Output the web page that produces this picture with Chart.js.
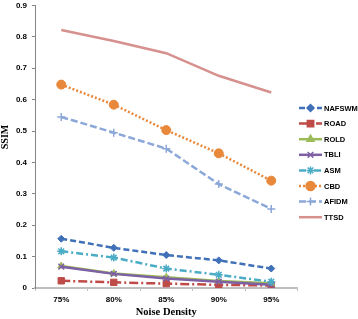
<!DOCTYPE html>
<html><head><meta charset="utf-8">
<script src="https://cdn.jsdelivr.net/npm/chart.js@4/dist/chart.umd.min.js"></script>
<style>html,body{margin:0;padding:0;background:#fff}#wrap{width:358px;height:319px;position:relative}</style>
</head><body><div id="wrap"><canvas id="c" width="358" height="319"></canvas></div>
<script>
const categories = ['75%','80%','85%','90%','95%'];
const NAFSWM = [0.157,0.128,0.105,0.088,0.062];
const ROAD   = [0.023,0.018,0.014,0.010,0.008];
const ROLD   = [0.070,0.046,0.034,0.022,0.015];
const TBLI   = [0.068,0.045,0.030,0.020,0.010];
const ASM    = [0.117,0.097,0.062,0.042,0.020];
const CBD    = [0.648,0.584,0.503,0.429,0.342];
const AFIDM  = [0.545,0.495,0.444,0.331,0.252];
const TTSD   = [0.822,0.787,0.748,0.676,0.623];
const yTicks = [0,0.1,0.2,0.3,0.4,0.5,0.6,0.7,0.8,0.9];
const xTitle = 'Noise Density';
const yTitle = 'SSIM';

const series = [
  {label:'NAFSWM', data:NAFSWM, color:'#4070B8', dash:[6,3], pt:'rectRot', r:3.5},
  {label:'ROAD', data:ROAD, color:'#BE4B48', dash:[9,3,2,3], pt:'rect', r:4.5},
  {label:'ROLD', data:ROLD, color:'#9BBB59', dash:[], pt:'triangle', r:4},
  {label:'TBLI', data:TBLI, color:'#7E60A4', dash:[], pt:'crossRot', r:4},
  {label:'ASM', data:ASM, color:'#4BACC6', dash:[7,3,2,3], pt:'star', r:4},
  {label:'CBD', data:CBD, color:'#E8883A', dash:[2,2], pt:'circle', r:4.5},
  {label:'AFIDM', data:AFIDM, color:'#8CA8D8', dash:[7,3], pt:'cross', r:4},
  {label:'TTSD', data:TTSD, color:'#D6908E', dash:[], pt:false, r:0}
];

const datasets = series.map((s,i)=>({
  label:s.label, data:s.data, borderColor:s.color, backgroundColor:s.color,
  borderWidth:2.5, borderDash:s.dash, pointStyle:s.pt, pointRadius:s.r,
  pointBorderWidth:(s.pt==='crossRot'||s.pt==='cross'||s.pt==='star')?1.5:1,
  pointBorderColor:s.color, pointBackgroundColor:s.color, tension:0, order:series.length-i
}));

const overlay = {
  id:'overlay',
  afterDraw(chart){
    const ctx = chart.ctx;
    ctx.save();
    ctx.fillStyle = '#000';
    ctx.font = 'bold 10px "Liberation Serif"';
    ctx.textAlign = 'center'; ctx.textBaseline = 'middle';
    ctx.translate(5,137); ctx.rotate(-Math.PI/2);
    ctx.fillText(yTitle,0,0);
    ctx.restore();
    ctx.save();
    const y0 = 108, dy = 15.6, x0 = 299, x1 = 322;
    series.forEach((s,i)=>{
      const y = y0 + i*dy;
      ctx.strokeStyle = s.color; ctx.lineWidth = 2.5; ctx.setLineDash(s.dash);
      ctx.beginPath(); ctx.moveTo(x0,y); ctx.lineTo(x1,y); ctx.stroke();
      ctx.setLineDash([]);
      if (s.pt) {
        ctx.fillStyle = s.color; ctx.strokeStyle = s.color; ctx.lineWidth = 1.5;
        Chart.helpers.drawPoint(ctx,{pointStyle:s.pt, radius:s.r, borderWidth:1.5, rotation:0}, (x0+x1)/2, y);
      }
      ctx.fillStyle = '#000';
      ctx.font = 'bold 7.5px "Liberation Sans"';
      ctx.textAlign = 'left'; ctx.textBaseline = 'middle';
      ctx.fillText(s.label, 324, y+0.5);
    });
    ctx.restore();
  }
};

new Chart(document.getElementById('c'), {
  type:'line',
  data:{labels:categories, datasets},
  options:{
    responsive:false, animation:false, devicePixelRatio:1,
    layout:{padding:{left:0,right:60.5,top:3,bottom:0}},
    plugins:{legend:{display:false}, tooltip:{enabled:false}},
    scales:{
      x:{
        offset:true,
        grid:{display:true, drawOnChartArea:false, drawTicks:true, tickLength:3, offset:true, color:'#BFBFBF'},
        border:{color:'#BFBFBF', width:2},
        ticks:{color:'#000', font:{family:'Liberation Sans', weight:'bold', size:8}, padding:4, maxRotation:0},
        title:{display:true, text:xTitle, color:'#000', font:{family:'Liberation Serif', weight:'bold', size:10.5}, padding:{top:1,bottom:0}},
        afterFit(s){ s.height = 31; s.paddingLeft=0; s.paddingRight=0; }
      },
      y:{
        min:0, max:0.9,
        afterBuildTicks(s){ s.ticks = yTicks.map(v=>({value:v})); },
        grid:{display:true, drawOnChartArea:false, drawTicks:true, tickLength:3, color:'#868686'},
        border:{color:'#868686', width:1},
        ticks:{color:'#000', font:{family:'Liberation Sans', weight:'bold', size:8}, padding:5,
          callback:v=> v===0 ? '0' : v.toFixed(1)},
        afterFit(s){ s.width = 35; s.paddingTop=0; s.paddingBottom=0; }
      }
    }
  },
  plugins:[overlay]
});
</script></body></html>
